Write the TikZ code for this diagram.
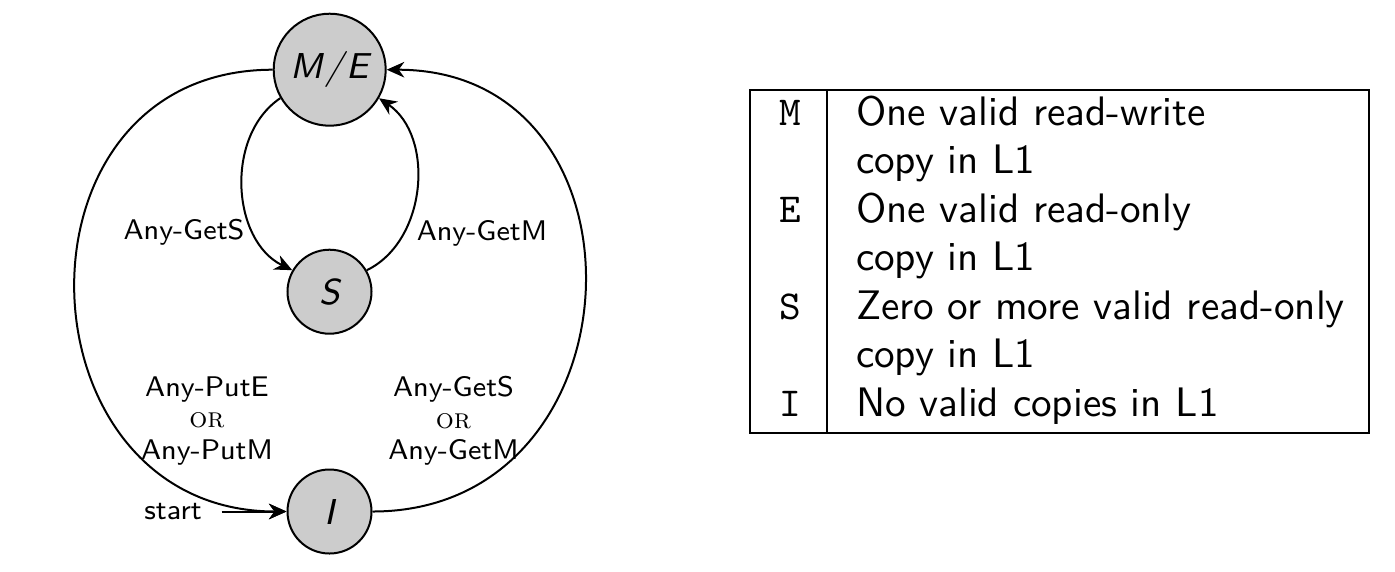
\documentclass[tikz,border=0pt]{standalone}
\usepackage{fontspec}
\usetikzlibrary{arrows.meta}
\begin{document}
\begin{tikzpicture}[x=0.25pt,y=-0.25pt,line width=0.5pt,
  >={Stealth[length=4.4pt,width=3.9pt,inset=1.4pt]},
  st/.style={circle,draw,fill=black!20,inner sep=0pt,font=\fontsize{9}{11}\selectfont\sffamily\itshape},
  lbl/.style={font=\fontsize{7.1}{7.9}\selectfont\sffamily,inner sep=0pt,align=center},
  tbl/.style={font=\fontsize{10.3}{12}\selectfont\sffamily,inner sep=0pt,anchor=base west},
  key/.style={font=\fontsize{10.3}{12}\selectfont\ttfamily,inner sep=0pt,anchor=base}]
\useasboundingbox (0,0) rectangle (1395,571);
% states
\node[st,minimum size=28pt] (ME) at (329.7,69.7) {M\kern0.6pt/\kern0.6pt E};
\node[st,minimum size=21pt] (S) at (329.5,291.7) {S};
\node[st,minimum size=21pt] (I) at (329.5,511.5) {I};
% transitions
\draw[->] (ME) to[bend right=60] (S);
\draw[->] (S) to[bend right=60] (ME);
\draw[->] (ME.west) .. controls +(-272,0) and +(-272,0) .. (I.west);
\draw[->] (I.east) .. controls +(273,0) and +(273,0) .. (ME.east);
% start
\node[lbl,anchor=east,inner xsep=4.75pt] (start) at (221.7,511.5) {start};
\draw[->] (start.east) -- (I.west);
% labels
\node[lbl,anchor=base] (l1) at (184,239) {Any-GetS};
\node[lbl,anchor=base] (l2) at (482,240) {Any-GetM};
\node[lbl] (l3) at (207,421) {Any-PutE\\{\rmfamily\scshape or}\\Any-PutM};
\node[lbl] (l4) at (453.5,421) {Any-GetS\\{\rmfamily\scshape or}\\Any-GetM};
% table
\draw (750,90) rectangle (1369,433);
\draw (827,90) -- (827,433);
\node[key] (kM) at (790,125) {M};
\node[tbl] (t1) at (855,125) {One valid read-write};
\node[tbl] (t2) at (855,173.5) {copy in L1};
\node[key] (kE) at (790,222) {E};
\node[tbl] (t3) at (855,222) {One valid read-only};
\node[tbl] (t4) at (855,270.5) {copy in L1};
\node[key] (kS) at (790,319) {S};
\node[tbl] (t5) at (855,319) {Zero or more valid read-only};
\node[tbl] (t6) at (855,367.5) {copy in L1};
\node[key] (kI) at (790,416.5) {I};
\node[tbl] (t7) at (855,416.5) {No valid copies in L1};
\end{tikzpicture}
\end{document}
